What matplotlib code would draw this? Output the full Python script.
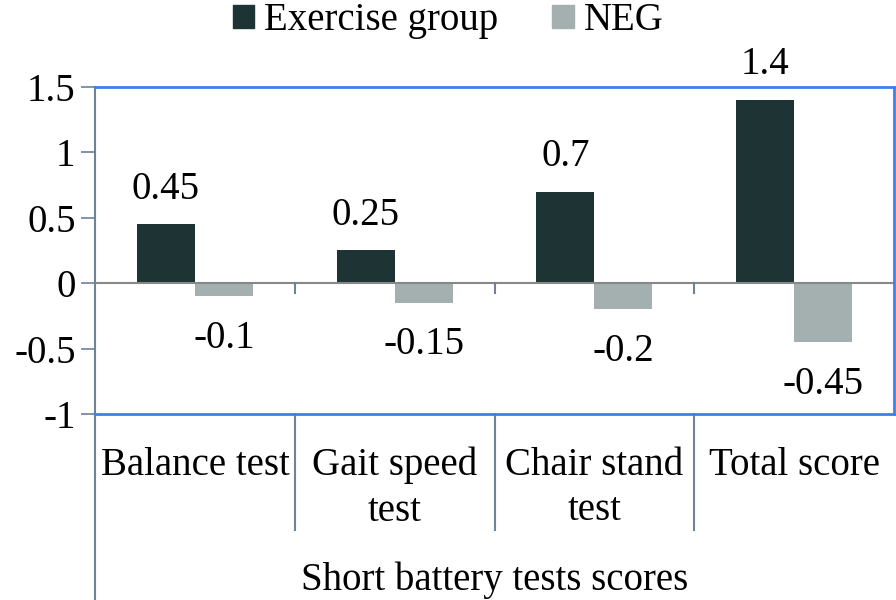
import matplotlib.pyplot as plt
from matplotlib.patches import Patch
from matplotlib.lines import Line2D
import numpy as np

plt.rcParams['font.family'] = ['Liberation Serif', 'DejaVu Serif']

categories = ["Balance test", "Gait speed\ntest", "Chair stand\ntest", "Total score"]
exercise = [0.45, 0.25, 0.7, 1.4]
neg = [-0.1, -0.15, -0.2, -0.45]
yticks = [-1, -0.5, 0, 0.5, 1, 1.5]
ytick_labels = ["-1", "-0.5", "0", "0.5", "1", "1.5"]

dark = "#1e3333"
grey = "#a4afaf"
blue = "#3f80e6"
spine_grey = "#6f8296"
fs = 28

fig = plt.figure(figsize=(8.96, 6), dpi=100)
ax = fig.add_axes([95/896, 1 - 414/600, 799/896, 327/600])

x = np.arange(len(categories))
w = 0.29
ax.bar(x - w/2, exercise, w, color=dark)
ax.bar(x + w/2, neg, w, color=grey)

ax.set_xlim(-0.5, 3.5)
ax.set_ylim(-1, 1.5)
ax.set_yticks(yticks)
ax.set_yticklabels(ytick_labels, fontsize=fs)
ax.tick_params(axis='y', length=10, width=1.2, color=spine_grey, pad=4)
ax.set_xticks([])

for s in ['top', 'right', 'bottom']:
    ax.spines[s].set_color(blue)
    ax.spines[s].set_linewidth(2)
ax.spines['left'].set_color(spine_grey)
ax.spines['left'].set_linewidth(1.5)

ax.axhline(0, color="#888888", lw=1.5)
for b in [0.5, 1.5, 2.5]:
    ax.plot([b, b], [0, -0.075], color=spine_grey, lw=1.5, clip_on=False)

for i in range(len(categories)):
    ax.annotate(f"{exercise[i]:g}", (x[i] - w/2, exercise[i]), xytext=(0, 12),
                textcoords='offset points', ha='center', va='bottom', fontsize=fs)
    ax.annotate(f"{neg[i]:g}", (x[i] + w/2, neg[i]), xytext=(0, -17),
                textcoords='offset points', ha='center', va='top', fontsize=fs)

# category axis below the plot
trans = ax.get_xaxis_transform()
for i, c in enumerate(categories):
    ax.text(x[i], -0.1, c, transform=trans, ha='center', va='top', fontsize=fs,
            linespacing=1.3)
for b in [0.5, 1.5, 2.5]:
    ax.add_line(Line2D([b, b], [0, -0.355], transform=trans, color=spine_grey,
                       lw=1.5, clip_on=False))
ax.add_line(Line2D([-0.5, -0.5], [0, -0.57], transform=trans, color=spine_grey,
                   lw=1.5, clip_on=False))
ax.text(1.5, -0.452, "Short battery tests scores", transform=trans, ha='center',
        va='top', fontsize=fs)

handles = [Patch(color=dark, label="Exercise group"), Patch(color=grey, label="NEG")]
fig.legend(handles=handles, loc='upper center', bbox_to_anchor=(0.5, 1.055), ncol=2,
           frameon=False, fontsize=fs, handlelength=0.55, handleheight=0.55,
           handletextpad=0.25, columnspacing=1.4)

fig.savefig("out.png", dpi=100)
